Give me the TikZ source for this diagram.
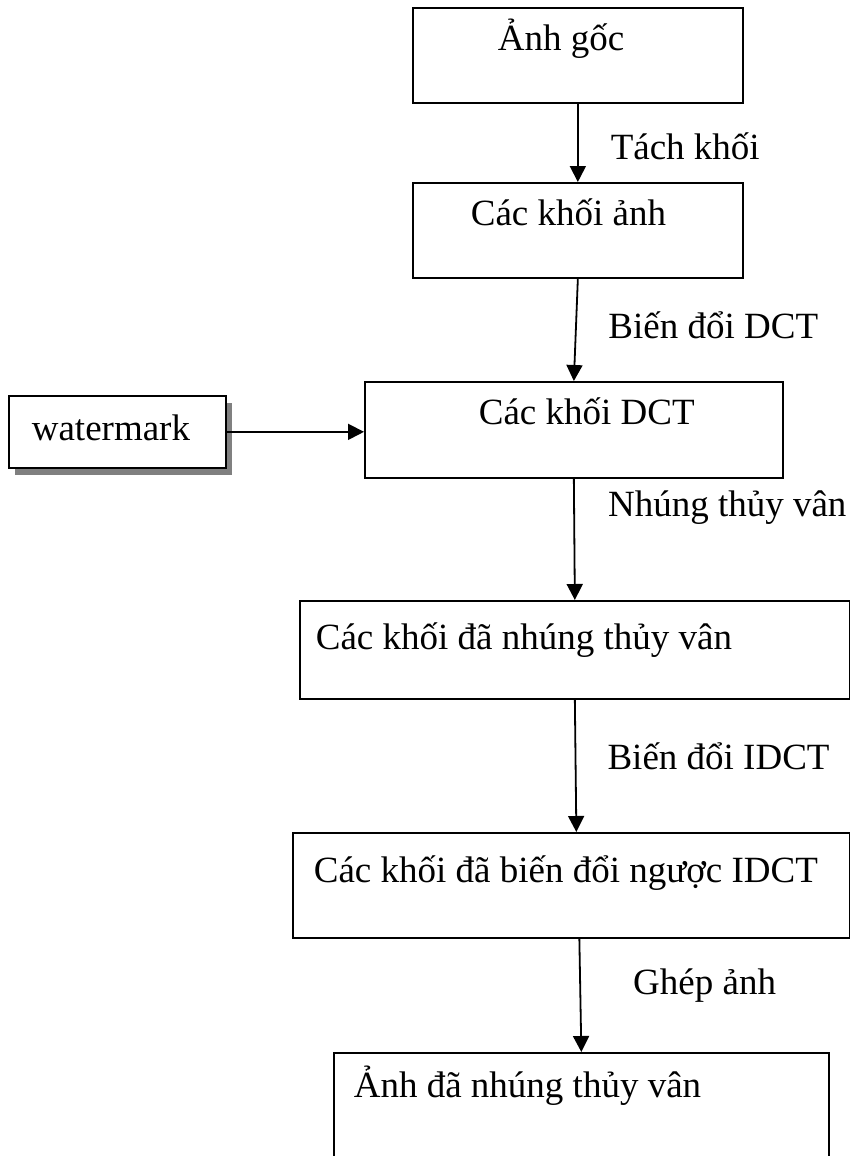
\documentclass[tikz,border=0pt]{standalone}
\usepackage{fontspec}
\setmainfont{Liberation Serif}
\usetikzlibrary{arrows.meta,shadows}

\tikzset{
  blk/.style={draw, line width=1.7pt, inner sep=0pt, align=flush left, anchor=north west,
    font=\fontsize{37}{44}\selectfont},
  lbl/.style={anchor=base west, inner sep=0pt, font=\fontsize{37}{44}\selectfont},
  flow/.style={line width=1.8pt, -{Triangle[width=16pt,length=16pt]}}
}

\begin{document}
\begin{tikzpicture}[x=1pt,y=-1pt]
    \useasboundingbox (0,0) rectangle (850,1156);
    \clip (0,0) rectangle (850,1156);

    %Blocks
    \node[blk, text width=330pt, text height=43pt, text depth=52pt] (goc) at (412,7) {\hspace*{85pt}Ảnh gốc};
    \node[blk, text width=330pt, text height=43pt, text depth=52pt] (khoi) at (412,182) {\hspace*{58pt}Các khối ảnh};
    \node[blk, text width=418pt, text height=43pt, text depth=53pt] (dct) at (364,381) {\hspace*{114pt}Các khối DCT};
    \node[blk, text width=550pt, text height=49pt, text depth=49pt] (nhung) at (299,600) {\hspace*{16pt}Các khối đã nhúng thủy vân};
    \node[blk, text width=557pt, text height=50pt, text depth=55pt] (idct) at (292,832) {\hspace*{21pt}Các khối đã biến đổi ngược IDCT};
    \node[blk, text width=495pt, text height=45pt, text depth=120pt] (ket) at (333,1052) {\hspace*{20pt}Ảnh đã nhúng thủy vân};

    %Watermark input
    \node[blk, text width=217pt, text height=45pt, text depth=27pt, fill=white,
      drop shadow={shadow xshift=6pt, shadow yshift=-7pt, fill=black!50, opacity=1}]
      (wm) at (8,395) {\hspace*{23pt}watermark};

    %Flow
    \draw[flow] (goc.south) -- (khoi.north) node[lbl, pos=0.71, xshift=32pt] (tach) {Tách khối};
    \draw[flow] (khoi.south) -- (dct.north) node[lbl, pos=0.58, xshift=32pt] (bdct) {Biến đổi DCT};
    \draw[flow] (dct.south) -- ([xshift=1pt]dct.south |- nhung.north) node[lbl, pos=0.31, xshift=33pt] (nthuy) {Nhúng thủy vân};
    \draw[flow] (nhung.south) -- ([xshift=5pt]idct.north) node[lbl, pos=0.53, xshift=31pt] (bidct) {Biến đổi IDCT};
    \draw[flow] ([xshift=8pt]idct.south) -- (ket.north) node[lbl, pos=0.49, xshift=52pt] (ghep) {Ghép ảnh};
    \draw[flow] (wm.east) -- (wm.east -| dct.west);
\end{tikzpicture}
\end{document}
